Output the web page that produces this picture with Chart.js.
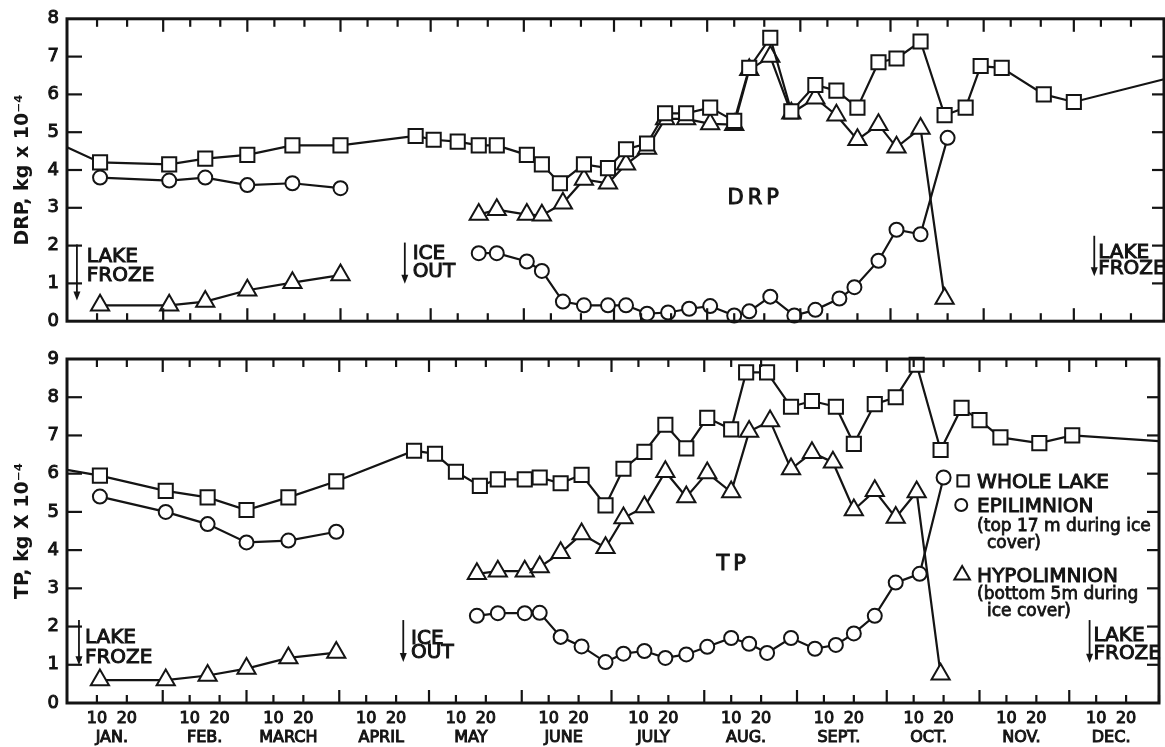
<!DOCTYPE html>
<html>
<head>
<meta charset="utf-8">
<script src="https://cdn.jsdelivr.net/npm/chart.js@4/dist/chart.umd.min.js"></script>
<style>
  html, body { margin: 0; padding: 0; background: #fff; }
  #wrap { position: relative; width: 1165px; height: 747px; }
  canvas { position: absolute; left: 0; }
  #drp { top: 0; }
  #tp { top: 340px; }
</style>
</head>
<body>
<div id="wrap">
  <canvas id="drp" width="1165" height="340"></canvas>
  <canvas id="tp" width="1165" height="407"></canvas>
</div>
<script>
// x axis: day of year (Jan 1 = 1)
const MONTHS = ['JAN.', 'FEB.', 'MARCH', 'APRIL', 'MAY', 'JUNE', 'JULY', 'AUG.', 'SEPT.', 'OCT.', 'NOV.', 'DEC.'];
const MONTH_START = [1, 32, 60, 91, 121, 152, 182, 213, 244, 274, 305, 335];

// DRP, kg x 10^-4
const DRP_WHOLE_DAYS = [0, 11, 34, 46, 60, 75, 91, 116, 122, 130, 137, 143, 153, 158, 164, 172, 180, 186, 193,
  199, 206, 214, 222, 227, 234, 241, 249, 256, 263, 270, 276, 284, 292, 299, 304, 311, 325, 335, 365];
const DRP_WHOLE = [4.6, 4.2, 4.15, 4.3, 4.4, 4.65, 4.65, 4.9, 4.8, 4.75, 4.65, 4.65, 4.4, 4.15, 3.65, 4.15, 4.05, 4.55, 4.7,
  5.5, 5.5, 5.65, 5.3, 6.7, 7.5, 5.55, 6.25, 6.1, 5.65, 6.85, 6.95, 7.4, 5.45, 5.65, 6.75, 6.7, 6.0, 5.8, 6.4];
const DRP_EPI_WINTER_DAYS = [11, 34, 46, 60, 75, 91];
const DRP_EPI_WINTER = [3.8, 3.72, 3.8, 3.6, 3.65, 3.52];
const DRP_EPI_DAYS = [137, 143, 153, 158, 165, 172, 180, 186, 193, 200, 207, 214, 222, 227, 234, 242, 249, 257, 262, 270, 276, 284, 293];
const DRP_EPI = [1.8, 1.8, 1.58, 1.33, 0.52, 0.42, 0.42, 0.42, 0.2, 0.23, 0.33, 0.4, 0.15, 0.26, 0.65, 0.15, 0.3, 0.6, 0.9, 1.6, 2.42, 2.3, 4.85];
const DRP_HYPO_WINTER_DAYS = [11, 34, 46, 60, 75, 91];
const DRP_HYPO_WINTER = [0.42, 0.42, 0.52, 0.82, 1.02, 1.22];
const DRP_HYPO_DAYS = [137, 143, 153, 158, 165, 172, 180, 186, 193, 199, 206, 214, 222, 227, 234, 241, 249, 256, 263, 270, 276, 284, 292];
const DRP_HYPO = [2.82, 2.95, 2.82, 2.8, 3.12, 3.75, 3.65, 4.15, 4.57, 5.35, 5.35, 5.22, 5.2, 6.65, 7.0, 5.5, 5.9, 5.45, 4.8, 5.2, 4.6, 5.1, 0.6];

// TP, kg x 10^-4
const TP_WHOLE_DAYS = [0, 11, 33, 47, 60, 74, 90, 116, 123, 130, 138, 144, 153, 158, 165, 172, 180, 186, 193,
  200, 207, 214, 222, 227, 234, 242, 249, 257, 263, 270, 277, 284, 292, 299, 305, 312, 325, 336, 365];
const TP_WHOLE = [6.1, 5.95, 5.55, 5.38, 5.05, 5.38, 5.8, 6.6, 6.52, 6.05, 5.68, 5.85, 5.85, 5.9, 5.75, 5.97, 5.17, 6.13, 6.57,
  7.28, 6.66, 7.46, 7.16, 8.65, 8.65, 7.75, 7.9, 7.75, 6.78, 7.82, 8.0, 8.85, 6.62, 7.72, 7.4, 6.95, 6.8, 7.0, 6.85];
const TP_EPI_WINTER_DAYS = [11, 33, 47, 60, 74, 90];
const TP_EPI_WINTER = [5.4, 5.0, 4.68, 4.2, 4.25, 4.48];
const TP_EPI_DAYS = [137, 144, 153, 158, 165, 172, 180, 186, 193, 200, 207, 214, 222, 228, 234, 242, 250, 257, 263, 270, 277, 285, 293];
const TP_EPI = [2.28, 2.35, 2.35, 2.36, 1.73, 1.48, 1.07, 1.29, 1.36, 1.18, 1.27, 1.47, 1.7, 1.55, 1.31, 1.7, 1.42, 1.52, 1.82, 2.28, 3.15, 3.38, 5.9];
const TP_HYPO_WINTER_DAYS = [11, 33, 47, 60, 74, 90];
const TP_HYPO_WINTER = [0.6, 0.6, 0.72, 0.9, 1.18, 1.32];
const TP_HYPO_DAYS = [137, 144, 153, 158, 165, 172, 180, 186, 193, 200, 207, 214, 222, 228, 235, 242, 249, 256, 263, 270, 277, 284, 292];
const TP_HYPO = [3.38, 3.45, 3.45, 3.56, 3.93, 4.42, 4.06, 4.84, 5.13, 6.05, 5.39, 6.02, 5.52, 7.1, 7.38, 6.12, 6.55, 6.3, 5.05, 5.55, 4.85, 5.52, 0.75];

// annotations, in axis units: [text, day, value]
const DRP_NOTES = [['LAKE', 6.6, 1.56], ['FROZE', 6.6, 1.06], ['ICE', 115, 1.64], ['OUT', 115, 1.17],
  ['LAKE', 343.1, 1.66], ['FROZE', 343.1, 1.25]];
const DRP_ARROWS = [[3.3, 2.03, 0.55], [112.4, 2.08, 0.99], [341.8, 2.26, 1.19]];
const TP_NOTES = [['LAKE', 6, 1.57], ['FROZE', 6, 1.05], ['ICE', 115, 1.54], ['OUT', 115, 1.18],
  ['LAKE', 343.1, 1.62], ['FROZE', 343.1, 1.15]];
const TP_ARROWS = [[4, 2.17, 0.99], [112.4, 2.17, 1.07], [341.8, 2.17, 1.05]];
const KEY_LABELS = ['WHOLE LAKE', 'EPILIMNION', 'HYPOLIMNION'];
const KEY_NOTES = [['(top 17 m during ice', 304.2, 4.5], ['cover)', 307.5, 4.06],
  ['(bottom 5m during', 304.2, 2.72], ['ice cover)', 307.5, 2.28]];

const INK = '#141414';
const FONT = '"DejaVu Sans", sans-serif';

const tickDays = [];
const tickLabel = {};
MONTH_START.forEach((s, i) => {
  if (i > 0) { tickDays.push(s); tickLabel[s] = ''; }
  tickDays.push(s + 9, s + 19);
  tickLabel[s + 9] = '10';
  tickLabel[s + 19] = '20';
});
tickDays.push(365);
const monthMid = MONTH_START.map(s => s + 14);

function pts(days, vals) {
  return days.map((d, i) => ({ x: d, y: vals[i] }));
}
function broken(a, b) {
  return a.concat([{ x: (a[a.length - 1].x + b[0].x) / 2, y: null }], b);
}

const MARK = { rect: 10, circle: 7, triangle: 10.5 };
function series(data, style, bareEnds) {
  const r = MARK[style];
  const radius = bareEnds ? (c => (c.dataIndex === 0 || c.dataIndex === data.length - 1 ? 0 : r)) : r;
  return {
    data,
    borderColor: INK,
    borderWidth: 2.2,
    pointStyle: style,
    pointRadius: radius,
    pointHoverRadius: radius,
    pointBackgroundColor: '#fff',
    pointBorderColor: INK,
    pointBorderWidth: 2,
    tension: 0,
    fill: false,
    clip: false,
  };
}

function drawMark(ctx, style, x, y, r) {
  ctx.beginPath();
  if (style === 'rect') {
    const h = r * Math.SQRT1_2;
    ctx.rect(x - h, y - h, 2 * h, 2 * h);
  } else if (style === 'circle') {
    ctx.arc(x, y, r, 0, Math.PI * 2);
  } else {
    ctx.moveTo(x, y - r);
    ctx.lineTo(x + r * Math.sin(Math.PI * 2 / 3), y + r / 2);
    ctx.lineTo(x - r * Math.sin(Math.PI * 2 / 3), y + r / 2);
    ctx.closePath();
  }
  ctx.fill();
  ctx.stroke();
}

// lettering in the original is heavy, so text gets a thin outline too
function inkText(ctx, t, x, y) {
  ctx.fillText(t, x, y);
  ctx.strokeText(t, x, y);
}

// frame with inward tick marks on all four sides
const frameTicks = {
  id: 'frameTicks',
  afterDraw(chart) {
    const { ctx, chartArea: a, scales: { x, y } } = chart;
    const line = (x1, y1, x2, y2) => { ctx.beginPath(); ctx.moveTo(x1, y1); ctx.lineTo(x2, y2); ctx.stroke(); };
    ctx.save();
    ctx.strokeStyle = INK;
    ctx.lineWidth = 2.2;
    tickDays.forEach(d => {
      const px = x.getPixelForValue(d);
      const len = MONTH_START.includes(d) ? 13 : 8;
      line(px, a.top, px, a.top + len);
      line(px, a.bottom, px, a.bottom - len);
    });
    for (let v = 1; v < y.max; v++) {
      const py = y.getPixelForValue(v);
      line(a.left, py, a.left + 15, py);
      line(a.right, py, a.right - 12, py);
    }
    ctx.lineWidth = 3;
    ctx.strokeRect(a.left, a.top, a.right - a.left, a.bottom - a.top);
    ctx.restore();
  },
};

function notes(texts, arrows, title, key) {
  return {
    id: 'notes',
    afterDraw(chart) {
      const { ctx, scales: { x, y } } = chart;
      ctx.save();
      ctx.fillStyle = INK;
      ctx.strokeStyle = INK;
      ctx.textBaseline = 'alphabetic';
      ctx.textAlign = 'left';
      ctx.font = `20px ${FONT}`;
      ctx.lineWidth = 1;
      texts.forEach(([t, d, v]) => inkText(ctx, t, x.getPixelForValue(d), y.getPixelForValue(v)));
      ctx.lineWidth = 1.8;
      arrows.forEach(([d, from, to]) => {
        const px = x.getPixelForValue(d);
        const y1 = y.getPixelForValue(from);
        const y2 = y.getPixelForValue(to);
        ctx.beginPath(); ctx.moveTo(px, y1); ctx.lineTo(px, y2 - 6); ctx.stroke();
        ctx.beginPath(); ctx.moveTo(px, y2); ctx.lineTo(px - 3.5, y2 - 9); ctx.lineTo(px + 3.5, y2 - 9); ctx.closePath(); ctx.fill();
      });
      ctx.font = `21px ${FONT}`;
      ctx.lineWidth = 1;
      if ('letterSpacing' in ctx) ctx.letterSpacing = '4px';
      inkText(ctx, title[0], x.getPixelForValue(title[1]), y.getPixelForValue(title[2]));
      if ('letterSpacing' in ctx) ctx.letterSpacing = '0px';
      if (key) {
        const styles = ['rect', 'circle', 'triangle'];
        const rows = [[299.5, 5.81, 5.63], [298.9, 5.18, 5.0], [299.2, 3.35, 3.17]];
        ctx.font = `20px ${FONT}`;
        rows.forEach(([d, mv, tv], i) => {
          ctx.fillStyle = '#fff';
          ctx.lineWidth = 2;
          drawMark(ctx, styles[i], x.getPixelForValue(d), y.getPixelForValue(mv), [8, 6, 9][i]);
          ctx.fillStyle = INK;
          ctx.lineWidth = 1;
          inkText(ctx, KEY_LABELS[i], x.getPixelForValue(304.2), y.getPixelForValue(tv));
        });
        ctx.font = `17px ${FONT}`;
        ctx.lineWidth = 0.8;
        KEY_NOTES.forEach(([t, d, v]) => inkText(ctx, t, x.getPixelForValue(d), y.getPixelForValue(v)));
      }
      ctx.restore();
    },
  };
}

function xScale(showLabels, height) {
  return {
    type: 'linear',
    min: 0,
    max: 365,
    grid: { display: false, drawTicks: false },
    border: { display: false },
    afterBuildTicks: s => { s.ticks = tickDays.map(v => ({ value: v })); },
    afterFit: s => { s.height = height; },
    ticks: {
      display: showLabels,
      autoSkip: false,
      maxRotation: 0,
      minRotation: 0,
      padding: 6,
      color: INK,
      textStrokeColor: INK,
      textStrokeWidth: 1,
      font: { family: FONT, size: 16 },
      callback: v => tickLabel[v] || '',
    },
  };
}

function yScale(max, title) {
  return {
    min: 0,
    max,
    grid: { display: false, drawTicks: false },
    border: { display: false },
    afterFit: s => { s.width = 67; },
    ticks: { stepSize: 1, padding: 8, color: INK, textStrokeColor: INK, textStrokeWidth: 1, font: { family: FONT, size: 18 } },
    title: { display: true, text: title, color: INK, font: { family: FONT, size: 19, weight: 'bold' }, padding: { top: 12, bottom: 0 } },
  };
}

function makeChart(id, datasets, scales, padding, plugins) {
  return new Chart(document.getElementById(id), {
    type: 'line',
    data: { datasets },
    options: {
      responsive: false,
      animation: false,
      layout: { padding, autoPadding: false },
      plugins: { legend: { display: false }, tooltip: { enabled: false } },
      scales,
    },
    plugins,
  });
}

makeChart('drp', [
  series(pts(DRP_WHOLE_DAYS, DRP_WHOLE), 'rect', true),
  series(broken(pts(DRP_HYPO_WINTER_DAYS, DRP_HYPO_WINTER), pts(DRP_HYPO_DAYS, DRP_HYPO)), 'triangle'),
  series(broken(pts(DRP_EPI_WINTER_DAYS, DRP_EPI_WINTER), pts(DRP_EPI_DAYS, DRP_EPI)), 'circle'),
], {
  x: xScale(false, 17),
  y: yScale(8, 'DRP, kg x 10⁻⁴'),
}, { top: 15, right: 1, left: 0, bottom: 0 }, [frameTicks, notes(DRP_NOTES, DRP_ARROWS, ['DRP', 219.8, 3.09], false)]);

makeChart('tp', [
  series(pts(TP_WHOLE_DAYS, TP_WHOLE), 'rect', true),
  series(broken(pts(TP_HYPO_WINTER_DAYS, TP_HYPO_WINTER), pts(TP_HYPO_DAYS, TP_HYPO)), 'triangle'),
  series(broken(pts(TP_EPI_WINTER_DAYS, TP_EPI_WINTER), pts(TP_EPI_DAYS, TP_EPI)), 'circle'),
], {
  x: xScale(true, 22),
  xm: {
    type: 'linear',
    position: 'bottom',
    weight: 1,
    min: 0,
    max: 365,
    grid: { display: false, drawTicks: false },
    border: { display: false },
    afterBuildTicks: s => { s.ticks = monthMid.map(v => ({ value: v })); },
    afterFit: s => { s.height = 22; },
    ticks: {
      autoSkip: false,
      maxRotation: 0,
      minRotation: 0,
      padding: 3,
      color: INK,
      textStrokeColor: INK,
      textStrokeWidth: 1,
      font: { family: FONT, size: 16 },
      callback: (v, i) => MONTHS[i],
    },
  },
  y: yScale(9, 'TP, kg X 10⁻⁴'),
}, { top: 19, right: 1, left: 0, bottom: 0 }, [frameTicks, notes(TP_NOTES, TP_ARROWS, ['TP', 217.1, 3.48], true)]);
</script>
</body>
</html>
